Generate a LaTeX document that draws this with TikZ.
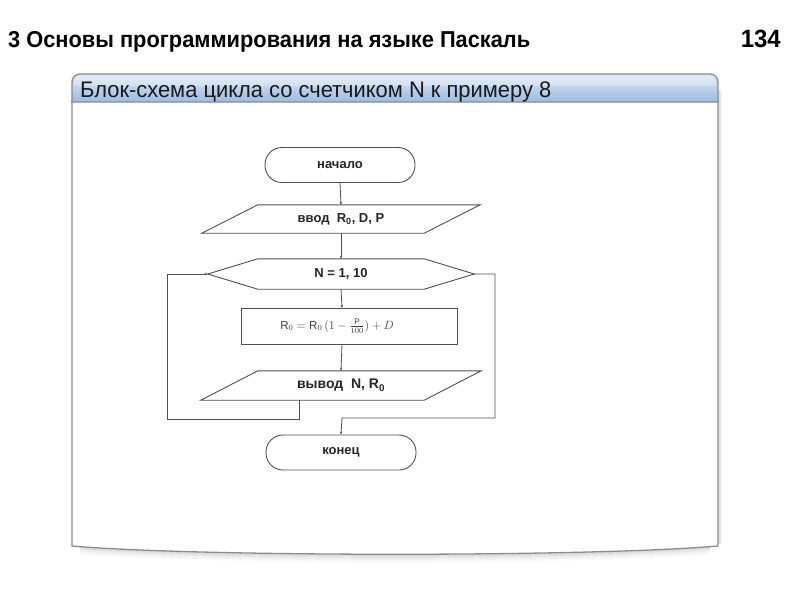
\documentclass[tikz,border=0pt]{standalone}
\usepackage{fontspec}
\setmainfont{Liberation Sans}
\usetikzlibrary{arrows.meta}
\definecolor{framegray}{HTML}{8C8C8C}
\definecolor{hdtop}{HTML}{DCE8F6}
\definecolor{hdbot}{HTML}{9DBBE0}
\definecolor{fcline}{HTML}{505050}
\newcommand\fitw[2]{\resizebox{#1}{\height}{#2}}
\tikzset{
  fclabel/.style={font=\fontsize{13}{15}\selectfont\bfseries, inner sep=0pt, text=black!85},
  termbox/.style={fclabel, draw=fcline, line width=0.9pt, rounded corners=17pt, minimum width=150pt, minimum height=35pt},
  procbox/.style={draw=fcline, line width=0.9pt, minimum width=216pt, minimum height=36pt, inner sep=0pt},
  ghost/.style={fclabel, draw=none, minimum height=28pt},
  shapeline/.style={draw=fcline, line width=0.9pt},
  flow/.style={draw=fcline, line width=0.8pt, -{Stealth[length=3pt,width=2.4pt]}},
}
\begin{document}
\begin{tikzpicture}[x=1pt,y=-1pt]
\useasboundingbox (0,0) rectangle (800,600);
\fill[white] (0,0) rectangle (800,600);
% page title
\node[anchor=base west, inner sep=0pt, font=\fontsize{23}{26}\selectfont\bfseries] (title) at (8,47) {\fitw{522pt}{3 Основы программирования на языке Паскаль}};
\node[anchor=base east, inner sep=0pt, font=\fontsize{25}{28}\selectfont\bfseries] (pagenum) at (781,47) {\fitw{40pt}{134}};
% panel shadow
\foreach \o/\a in {1/0.12,2/0.10,3/0.08,4/0.06,5/0.045,6/0.03,7/0.02,8/0.012}{
  \draw[black, opacity=\a, line width=1.2pt] (80,546+\o) .. controls (200,557+\o) and (590,557+\o) .. (710,546+\o);
}
\foreach \o/\a in {1/0.08,2/0.05,3/0.03}{
  \draw[black, opacity=\a, line width=1.2pt] (718+\o,90) -- (718+\o,544);
}
% panel body
\path[fill=white, draw=framegray, line width=1.3pt] (72,100) -- (72,546) .. controls (200,557) and (590,557) .. (718,546) -- (718,100);
% header band
\path[top color=hdtop, bottom color=hdbot, draw=framegray, line width=1.3pt]
  (72,102) -- (72,82) arc[start angle=180, end angle=270, radius=8] -- (710,74)
  arc[start angle=270, end angle=360, radius=8] -- (718,102) -- cycle;
\fill[white, opacity=0.25] (74,82) arc[start angle=180, end angle=270, radius=6] -- (710,76) arc[start angle=270, end angle=360, radius=6] -- (716,86) -- (74,86) -- cycle;
\node[anchor=base west, inner sep=0pt, font=\fontsize{22.5}{24}\selectfont, text=black!90] (hdr) at (80,97.5) {\fitw{471pt}{Блок-схема цикла со счетчиком N к примеру 8}};
% flowchart
\node[termbox] (start) at (340,165) {начало};
\node[ghost, minimum width=222pt] (inp) at (341,219) {ввод\ \ R\textsubscript{0}, D, P};
\draw[shapeline] ([xshift=28pt]inp.north west) -- ([xshift=28pt]inp.north east) -- ([xshift=-28pt]inp.south east) -- ([xshift=-28pt]inp.south west) -- cycle;
\node[ghost, minimum width=166pt, minimum height=30pt] (loop) at (341,274) {N = 1, 10};
\draw[shapeline] (loop.north west) -- (loop.north east) -- ([xshift=50pt]loop.east) -- (loop.south east) -- (loop.south west) -- ([xshift=-50pt]loop.west) -- cycle;
\coordinate (lpL) at ([xshift=-50pt]loop.west);
\coordinate (lpR) at ([xshift=50pt]loop.east);
\node[procbox] (calc) at (349,326) {};
\node[inner sep=0pt, text=black!75, font=\fontsize{11.5}{13}\selectfont] (formula) at (337,326) {$\mathrm{R}_0 = \mathrm{R}_0\,(1 - \frac{\mathrm{P}}{100}) + D$};
\coordinate (calcN) at (342,308);
\coordinate (calcS) at (342,344);
\node[ghost, minimum width=223pt, minimum height=29pt, font=\fontsize{14}{16}\selectfont\bfseries] (outp) at (341,385.5) {вывод\ \ N, R\textsubscript{0}};
\draw[shapeline] ([xshift=28.5pt]outp.north west) -- ([xshift=28.5pt]outp.north east) -- ([xshift=-28.5pt]outp.south east) -- ([xshift=-28.5pt]outp.south west) -- cycle;
\coordinate (outS) at (299,400);
\node[termbox] (stop) at (341,452.5) {конец};
% connectors
\draw[flow] (start.south) -- (inp.north);
\draw[flow] (inp.south) -- (loop.north);
\draw[flow] (loop.south) -- (calcN);
\draw[flow] (calcS) -- (outp.north);
\coordinate (bl1) at (299,419);
\coordinate (bl2) at (167,419);
\coordinate (bl3) at (167,274);
\draw[flow] (outS) -- (bl1) -- (bl2) -- (bl3) -- (lpL);
\coordinate (ex1) at (495,274);
\coordinate (ex2) at (495,418);
\coordinate (ex3) at (342,418);
\draw[flow] (lpR) -- (ex1) -- (ex2) -- (ex3) -- (stop.north);
\end{tikzpicture}
\end{document}
